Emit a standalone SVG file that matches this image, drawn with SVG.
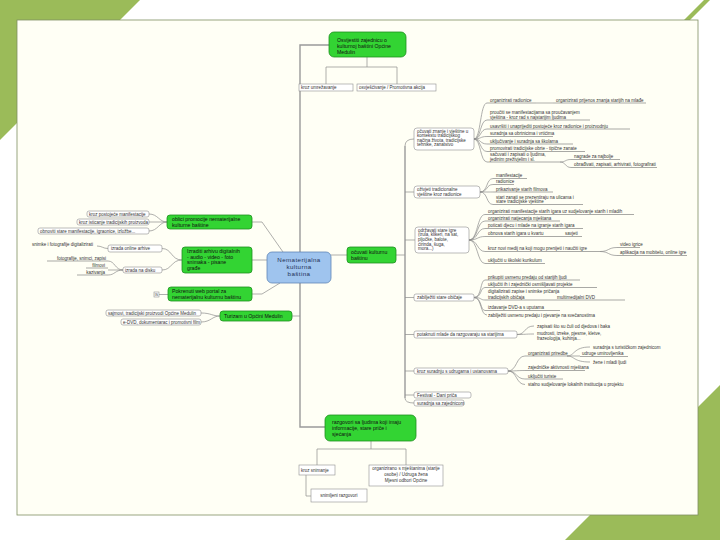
<svg xmlns="http://www.w3.org/2000/svg" width="720" height="540" viewBox="0 0 720 540">
<style>
.t{font-family:"Liberation Sans",Arial,sans-serif;font-size:4.5px;fill:#333}
.tg{font-family:"Liberation Sans",Arial,sans-serif;font-size:5.2px;fill:#111}
.tc{font-family:"Liberation Sans",Arial,sans-serif;font-size:6.2px;fill:#1d2f55;letter-spacing:0.4px}
.gn{fill:#33d433;stroke:#1f8f1f;stroke-width:0.8}
.cn{fill:#9fc4ee;stroke:#5f86b6;stroke-width:0.8}
.bx{fill:#fff;stroke:#8f8f8f;stroke-width:0.6}
.ln{fill:none;stroke:#8c8c8c;stroke-width:0.7}
.tr{fill:none;stroke:#9a9a9a;stroke-width:1.4}
.ul{fill:none;stroke:#6f6f6f;stroke-width:0.6}
</style>
<rect width="720" height="540" fill="#ffffff"/>
<polygon points="0,0 140,0 0,140" fill="#9bbb59"/>
<polygon points="720,540 720,385 565,540" fill="#9bbb59"/>
<polygon points="684,20 704,0 710,0 690,20" fill="#9bbb59"/>
<rect x="17" y="20" width="681" height="495" fill="#fffff5" stroke="#7f8f62" stroke-width="0.8"/>

<g id="connectors">
<path class="tr" d="M300,252 V45 H329"/>
<path class="tr" d="M300,283 V427 H325"/>
<path class="ln" d="M367,57 V67 M326,67 H397 M326,67 V84 M397,67 V84"/>
<path class="ln" d="M371,441 V449 M317,449 H406 M317,449 V465 M406,449 V465"/>
<path class="ln" d="M306,475 V496 H311"/>
<path class="ln" d="M331,255 H347 M396,255 H405"/>
<path class="tr" d="M405,146 V398"/>
<path class="ln" d="M405,146 Q405,139 414,139 M405,192 H414 M405,240 H415 M405,297.5 H414 M405,334.5 H414 M405,371 H414 M405,395 H414 M405,398 Q405,403 414,403"/>
<path class="ln" d="M474,139 C481,139 480,103 487,103 M474,139 C481,139 480,120 487,120 M474,139 C481,139 480,129 487,129 M474,139 C481,139 480,136.5 487,136.5 M474,139 C481,139 480,144 487,144 M474,139 C481,139 480,151.5 487,151.5 M474,139 C481,139 480,162 487,162"/>
<path class="ln" d="M536,103 H553"/>
<path class="ln" d="M560,162 C566,162 565,159.5 571,159.5 M560,162 C566,162 565,167.5 571,167.5"/>
<path class="ln" d="M480,192 C488,192 486,178.5 493,178.5 M480,192 C488,192 486,184.5 493,184.5 M480,192 C488,192 486,192 493,192 M480,192 C488,192 486,204.5 493,204.5"/>
<path class="ln" d="M469,240 C478,240 477,214.5 485,214.5 M469,240 C478,240 477,221 485,221 M469,240 C478,240 477,228.5 485,228.5 M469,240 C478,240 477,236.5 485,236.5 M469,240 C478,240 477,251.5 485,251.5 M469,240 C478,240 477,263.5 485,263.5"/>
<path class="ln" d="M600,251.5 C609,251.5 608,247.5 617,247.5 M600,251.5 C609,251.5 608,255.5 617,255.5"/>
<path class="ln" d="M474,297.5 C482,297.5 480,280 485,280 M474,297.5 C482,297.5 480,287.5 485,287.5 M474,297.5 C482,297.5 480,300 485,300 M474,297.5 C482,297.5 480,310.5 485,310.5 M474,297.5 C482,297.5 480,315 487,315"/>
<path class="ln" d="M517,334.5 C526,334.5 524,326 534,326 M517,334.5 C526,334.5 524,334 534,334"/>
<path class="ln" d="M508,371 C517,371 516,356 525,356 M508,371 C517,371 516,370.5 525,370.5 M508,371 C517,371 516,379 525,379 M508,371 C517,371 516,384.5 525,384.5"/>
<path class="ln" d="M567,356 C575,356 573,347 590,347 M567,356 H580 M567,356 C575,356 573,362 590,362"/>
<path class="ln" d="M252,222 H262 L283,252"/>
<path class="ln" d="M167,222 C159,222 158,214 149,214 M167,222 H149 M167,222 C159,222 158,231 149,231"/>
<path class="ln" d="M252,260 H267"/>
<path class="ln" d="M182,260 C171,260 172,248.5 162,248.5 M182,260 C171,260 172,270 162,270"/>
<path class="ln" d="M108,248.5 C103,248.5 102,246 97,246"/>
<path class="ln" d="M123,270 C115,270 115,261 108,261 M123,270 H108 M123,270 C115,270 115,275 108,275"/>
<path class="ul" d="M47,261 H108 M86,268 H108 M77,275 H108"/>
<path class="ln" d="M252,294 H262 L280,283"/>
<path class="ln" d="M159,294.5 H168"/>
<path class="ln" d="M292,316 H300"/>
<path class="ln" d="M220,316 C212,316 211,313 201,313 M220,316 C212,316 211,322 201,322"/>
</g>

<g id="n-top"><rect class="gn" x="329" y="32" width="77" height="25" rx="5"/>
<text class="tg" x="337" y="41.5">Osvijestiti zajednicu o</text><text class="tg" x="337" y="47.5">kulturnoj baštini Općine</text><text class="tg" x="337" y="53.5">Medulin</text></g>
<g id="n-top-a"><rect class="bx" x="299" y="84" width="54" height="7"/><text class="t" x="301" y="89.2">kroz umrežavanje</text></g>
<g id="n-top-b"><rect class="bx" x="357" y="84" width="79" height="7"/><text class="t" x="359" y="89.2">osvješćivanje / Promotivna akcija</text></g>

<g id="n-center"><rect class="cn" x="267" y="252" width="64" height="31" rx="5"/>
<text class="tc" x="299" y="262" text-anchor="middle">Nematerijalna</text><text class="tc" x="299" y="269" text-anchor="middle">kulturna</text><text class="tc" x="299" y="276" text-anchor="middle">baština</text></g>

<g id="n-bottom"><rect class="gn" x="325" y="415" width="91" height="26" rx="5"/>
<text class="tg" x="332" y="423.5">razgovori sa ljudima koji imaju</text><text class="tg" x="332" y="429.5">informacije, stare priče i</text><text class="tg" x="332" y="435.5">sjećanja</text></g>
<g id="n-b1"><rect class="bx" x="299" y="465" width="36" height="10"/><text class="t" x="301" y="471.5">kroz snimanje</text></g>
<g id="n-b2"><rect class="bx" x="369" y="465" width="74" height="21"/>
<text class="t" x="406" y="470" text-anchor="middle">organizirano s mještanima (starije</text><text class="t" x="406" y="476" text-anchor="middle">osobe) / Udruga žena</text><text class="t" x="406" y="482" text-anchor="middle">Mjesni odbori Općine</text></g>
<g id="n-b3"><rect class="bx" x="311" y="489" width="56" height="13"/><text class="t" x="339" y="497" text-anchor="middle">snimljeni razgovori</text></g>

<g id="n-ocuvati"><rect class="gn" x="347" y="247" width="49" height="16" rx="3"/>
<text class="tg" x="351" y="254">očuvati kulturnu</text><text class="tg" x="351" y="260">baštinu</text></g>

<g id="n-r1"><rect class="bx" x="414" y="128" width="60" height="22" rx="3"/>
<text class="t" x="417" y="132.5">očuvati znanje i vještine u</text><text class="t" x="417" y="137">kontekstu tradicijskog</text><text class="t" x="417" y="141.5">načina života, tradicijske</text><text class="t" x="417" y="146">tehnike, zanatstvo</text></g>
<g id="n-r1-items">
<text class="t" x="490" y="102">organizirati radionice</text><path class="ul" d="M487,103 H536"/>
<text class="t" x="556" y="102">organizirati prijenos znanja starijih na mlađe</text><path class="ul" d="M553,103 H646"/>
<text class="t" x="490" y="114">proučiti se manifestacijama sa proučavanjem</text><text class="t" x="490" y="118.6">vještina - kroz rad s najstarijim ljudima</text><path class="ul" d="M487,120 H590"/>
<text class="t" x="490" y="127.6">usavršiti i unaprijediti postojeće kroz radionice i proizvodnju</text><path class="ul" d="M487,129 H630"/>
<text class="t" x="490" y="135.2">suradnja sa obrtnicima i vrtićima</text><path class="ul" d="M487,136.5 H553"/>
<text class="t" x="490" y="142.7">uključivanje i suradnja sa školama</text><path class="ul" d="M487,144 H573"/>
<text class="t" x="490" y="150.2">promovirati tradicijske obrte - tipične zanate</text><path class="ul" d="M487,151.5 H585"/>
<text class="t" x="490" y="156">sačuvati i zapisati o ljudima,</text><text class="t" x="490" y="160.6">jedinim preživjelim i sl.</text><path class="ul" d="M487,162 H560"/>
<text class="t" x="574" y="158.2">nagrade za najbolje</text><path class="ul" d="M571,159.5 H620"/>
<text class="t" x="574" y="166.2">obrađivati, zapisati, arhivirati, fotografirati</text><path class="ul" d="M571,167.5 H657"/>
</g>

<g id="n-r2"><rect class="bx" x="414" y="186" width="66" height="12" rx="3"/>
<text class="t" x="417" y="191">oživjeti tradicionalne</text><text class="t" x="417" y="196">vještine kroz radionice</text></g>
<g id="n-r2-items">
<text class="t" x="496" y="177.2">manifestacije</text><path class="ul" d="M493,178.5 H527"/>
<text class="t" x="496" y="183.2">radionice</text><path class="ul" d="M493,184.5 H514"/>
<text class="t" x="496" y="190.7">prikazivanje starih filmova</text><path class="ul" d="M493,192 H553"/>
<text class="t" x="496" y="198.5">stari zanati se prezentiraju na ulicama i</text><text class="t" x="496" y="203.2">stare tradicijske vještine</text><path class="ul" d="M493,204.5 H583"/>
</g>

<g id="n-r3"><rect class="bx" x="415" y="227" width="54" height="26" rx="3"/>
<text class="t" x="418" y="231.5">održavati stare igre</text><text class="t" x="418" y="236.2">(trula, klikeri, na sat,</text><text class="t" x="418" y="240.9">pljočke, balote,</text><text class="t" x="418" y="245.6">ćirinda, šuga,</text><text class="t" x="418" y="250.3">mora...)</text></g>
<g id="n-r3-items">
<text class="t" x="488" y="213.2">organizirati manifestacije starih igara uz sudjelovanje starih i mladih</text><path class="ul" d="M485,214.5 H634"/>
<text class="t" x="488" y="219.7">organizirati natjecanja mještana</text><path class="ul" d="M485,221 H560"/>
<text class="t" x="488" y="227.2">poticati djecu i mlade na igranje starih igara</text><path class="ul" d="M485,228.5 H583"/>
<text class="t" x="488" y="235.2">obnova starih igara u kvartu</text><text class="t" x="565" y="235.2">savjeti</text><path class="ul" d="M485,236.5 H582"/>
<text class="t" x="488" y="250.2">kroz novi medij na koji mogu prenijeti i naučiti igre</text><path class="ul" d="M485,251.5 H600"/>
<text class="t" x="620" y="246.2">video igrice</text><path class="ul" d="M617,247.5 H640"/>
<text class="t" x="620" y="254.2">aplikacija na mobitelu, online igre</text><path class="ul" d="M617,255.5 H687"/>
<text class="t" x="488" y="262.2">uključiti u školski kurikulum</text><path class="ul" d="M485,263.5 H545"/>
</g>

<g id="n-r4"><rect class="bx" x="414" y="294" width="60" height="7" rx="2"/><text class="t" x="417" y="299.2">zabilježiti stare običaje</text></g>
<g id="n-r4-items">
<text class="t" x="488" y="278.7">prikupiti usmenu predaju od starijih ljudi</text><path class="ul" d="M485,280 H580"/>
<text class="t" x="488" y="286.2">uključiti ih i zajednički osmišljavati projekte</text><path class="ul" d="M485,287.5 H597"/>
<text class="t" x="488" y="293">digitalizirati zapise i snimke pričanja</text><text class="t" x="488" y="298.7">tradicijskih običaja</text><text class="t" x="557" y="298.7">multimedijalni DVD</text><path class="ul" d="M485,300 H625"/>
<text class="t" x="488" y="309.2">izdavanje DVD-a s uputama</text><path class="ul" d="M485,310.5 H560"/>
<text class="t" x="488" y="316.5">zabilježiti usmenu predaju i pjevanje na svečanostima</text>
</g>

<g id="n-r5"><rect class="bx" x="414" y="331" width="103" height="7" rx="2"/><text class="t" x="417" y="336.2">potaknuti mlade da razgovaraju sa starijima</text></g>
<g id="n-r5-items">
<text class="t" x="537" y="327.5">zapisati što su čuli od djedova i baka</text>
<text class="t" x="537" y="335">mudrosti, izreke, pjesme, kletve,</text><text class="t" x="537" y="340">frazeologija, kuhinja...</text>
</g>

<g id="n-r6"><rect class="bx" x="414" y="368" width="94" height="6" rx="2"/><text class="t" x="417" y="372.7">kroz suradnju s udrugama i ustanovama</text></g>
<g id="n-r6-items">
<text class="t" x="528" y="354.7">organizirati priredbe</text><path class="ul" d="M525,356 H567"/>
<text class="t" x="593" y="348.5">suradnja s turističkom zajednicom</text>
<text class="t" x="582" y="355.2">udruge umirovljenika</text><path class="ul" d="M580,356.5 H628"/>
<text class="t" x="593" y="363.5">žene i mladi ljudi</text>
<text class="t" x="528" y="369.2">zajedničke aktivnosti mještana</text><path class="ul" d="M525,370.5 H585"/>
<text class="t" x="528" y="377.7">uključiti turiste</text><path class="ul" d="M525,379 H563"/>
<text class="t" x="528" y="386">stalno sudjelovanje lokalnih institucija u projektu</text>
</g>

<g id="n-r7"><rect class="bx" x="414" y="392" width="57" height="6" rx="2"/><text class="t" x="417" y="396.7">Festival - Dani priča</text></g>
<g id="n-r8"><rect class="bx" x="414" y="400" width="50" height="6" rx="2"/><text class="t" x="417" y="404.7">suradnja sa zajednicom</text></g>

<g id="n-l1"><rect class="gn" x="167" y="215" width="85" height="14" rx="3"/>
<text class="tg" x="172" y="221">oblici promocije nematerijalne</text><text class="tg" x="172" y="227">kulturne baštine</text></g>
<g id="n-l1a"><rect class="bx" x="87" y="211" width="62" height="6" rx="2"/><text class="t" x="89" y="215.6">kroz postojeće manifestacije</text></g>
<g id="n-l1b"><rect class="bx" x="77" y="219" width="72" height="6" rx="2"/><text class="t" x="79" y="223.6">kroz isticanje tradicijskih proizvoda</text></g>
<g id="n-l1c"><rect class="bx" x="38" y="228" width="111" height="6" rx="2"/><text class="t" x="40" y="232.6">obnoviti stare manifestacije, igraonice, izložbe...</text></g>

<g id="n-l2"><rect class="gn" x="182" y="247" width="70" height="26" rx="3"/>
<text class="tg" x="187" y="252.5">Izraditi arhivu digitalnih</text><text class="tg" x="187" y="258.5">- audio - video - foto</text><text class="tg" x="187" y="264.3">snimaka - pisane</text><text class="tg" x="187" y="270.2">građe</text></g>
<g id="n-l2a"><rect class="bx" x="108" y="245" width="54" height="7" rx="2"/><text class="t" x="111" y="250.2">izrada online arhive</text></g>
<text class="t" x="32" y="245.5">snimke i fotografije digitalizirati</text>
<g id="n-l2b"><rect class="bx" x="123" y="267" width="39" height="6" rx="2"/><text class="t" x="125" y="271.6">izrada na disku</text></g>
<text class="t" x="106" y="260" text-anchor="end">fotografije, snimci, zapisi</text>
<text class="t" x="105" y="267" text-anchor="end">filmovi</text>
<text class="t" x="105" y="274" text-anchor="end">kazivanja</text>

<g id="n-l3"><rect class="gn" x="168" y="287" width="84" height="14" rx="3"/>
<text class="tg" x="172" y="293">Pokrenuti web portal za</text><text class="tg" x="172" y="299">nematerijalnu kulturnu baštinu</text></g>
<g id="n-l3a"><rect class="bx" x="154" y="292" width="5" height="5"/><text class="t" x="156.5" y="296" text-anchor="middle" style="font-size:3.5px">IS</text></g>

<g id="n-l4"><rect class="gn" x="220" y="311" width="72" height="10" rx="3"/><text class="tg" x="224" y="318">Turizam u Općini Medulin</text></g>
<g id="n-l4a"><rect class="bx" x="106" y="310" width="95" height="6" rx="2"/><text class="t" x="108" y="314.6">sajmovi, tradicijski proizvodi Općine Medulin</text></g>
<g id="n-l4b"><rect class="bx" x="121" y="319" width="80" height="6" rx="2"/><text class="t" x="123" y="323.6">e-DVD, dokumentarac i promotivni film</text></g>
</svg>
